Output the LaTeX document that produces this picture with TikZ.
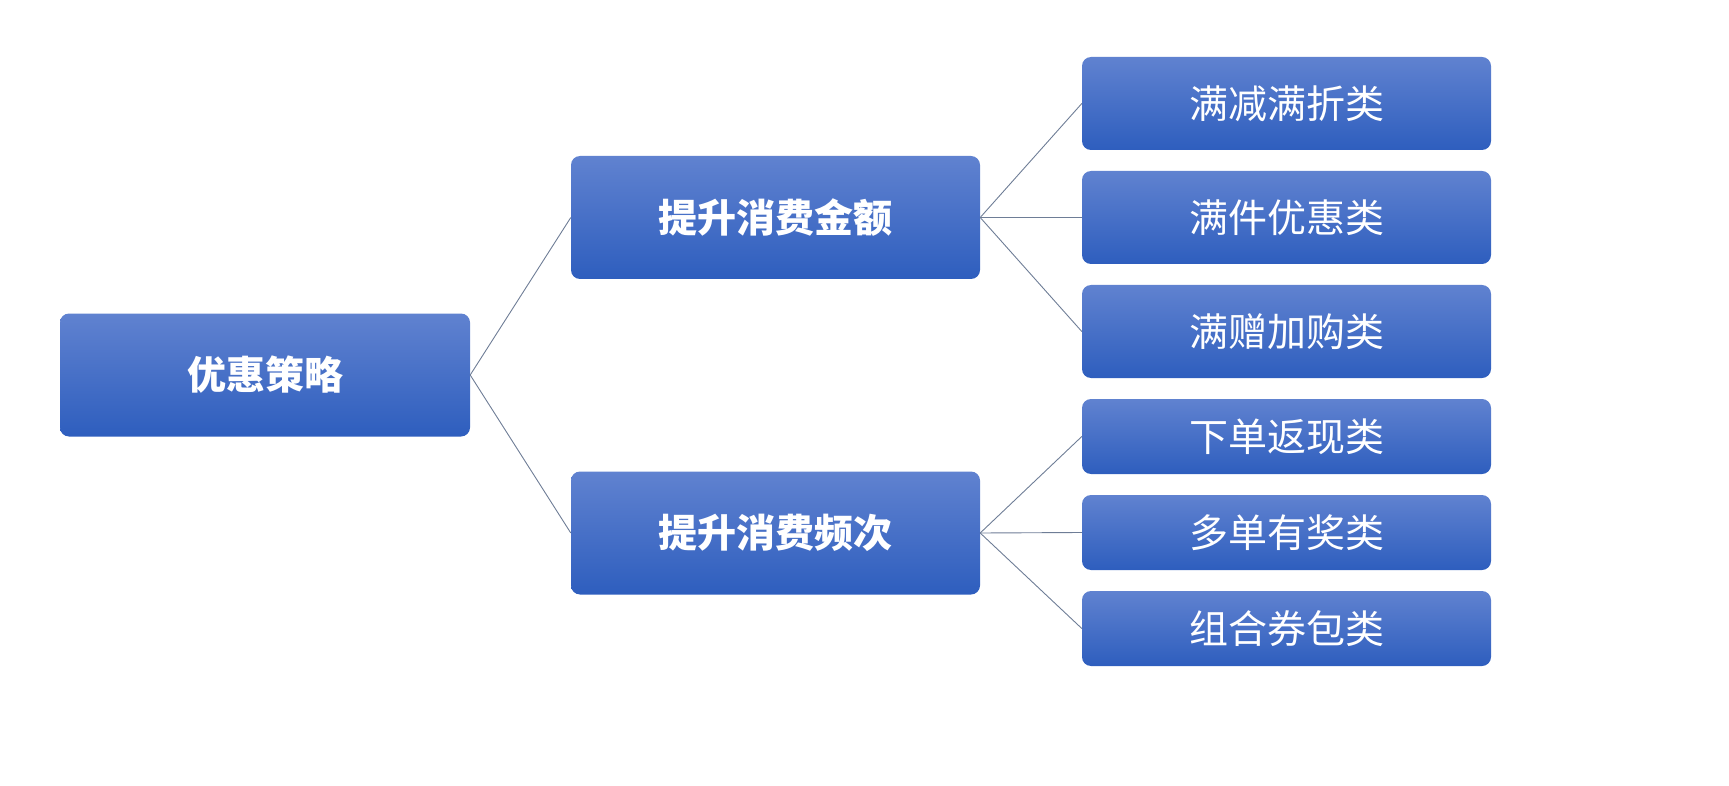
\documentclass[tikz,border=0pt]{standalone}
\usepackage{fontspec}
\newfontfamily\cjk{Noto Sans CJK SC}
\usetikzlibrary{calc}
\definecolor{boxTop}{RGB}{96, 130, 208}
\definecolor{boxBottom}{RGB}{46, 94, 190}
\definecolor{lineGrey}{RGB}{110, 125, 150}

\begin{document}
\begin{tikzpicture} [
        x=1pt, y=-1pt,
        box/.style={rounded corners=9pt, top color=boxTop, bottom color=boxBottom,
            text=white, minimum width=409pt, inner sep=0pt},
        big/.style={box, minimum height=123pt, font=\cjk\bfseries\fontsize{39}{46}\selectfont},
        leaf/.style={box, font=\cjk\fontsize{39}{46}\selectfont},
        link/.style={lineGrey, line width=0.9pt}
    ]
        \useasboundingbox (0, 0) rectangle (1729, 786);

        % root and middle level
        \node [big, minimum width=410pt] (root) at (265, 375) {优惠策略};
        \node [big] (amount) at (775.5, 217.5) {提升消费金额};
        \node [big] (freq) at (775.5, 533) {提升消费频次};

        % leaves
        \node [leaf, minimum height=93pt] (full) at (1286.5, 103.5) {满减满折类};
        \node [leaf, minimum height=93pt] (items) at (1286.5, 217.5) {满件优惠类};
        \node [leaf, minimum height=93pt] (gift) at (1286.5, 331.5) {满赠加购类};
        \node [leaf, minimum height=75pt] (cash) at (1286.5, 436.5) {下单返现类};
        \node [leaf, minimum height=75pt] (multi) at (1286.5, 532.5) {多单有奖类};
        \node [leaf, minimum height=75pt] (pack) at (1286.5, 628.5) {组合券包类};

        \foreach \m in {amount, freq}
            \draw [link] (root.east) -- (\m.west);
        \foreach \l in {full, items, gift}
            \draw [link] (amount.east) -- (\l.west);
        \foreach \l in {cash, multi, pack}
            \draw [link] (freq.east) -- (\l.west);
    \end{tikzpicture}
\end{document}
